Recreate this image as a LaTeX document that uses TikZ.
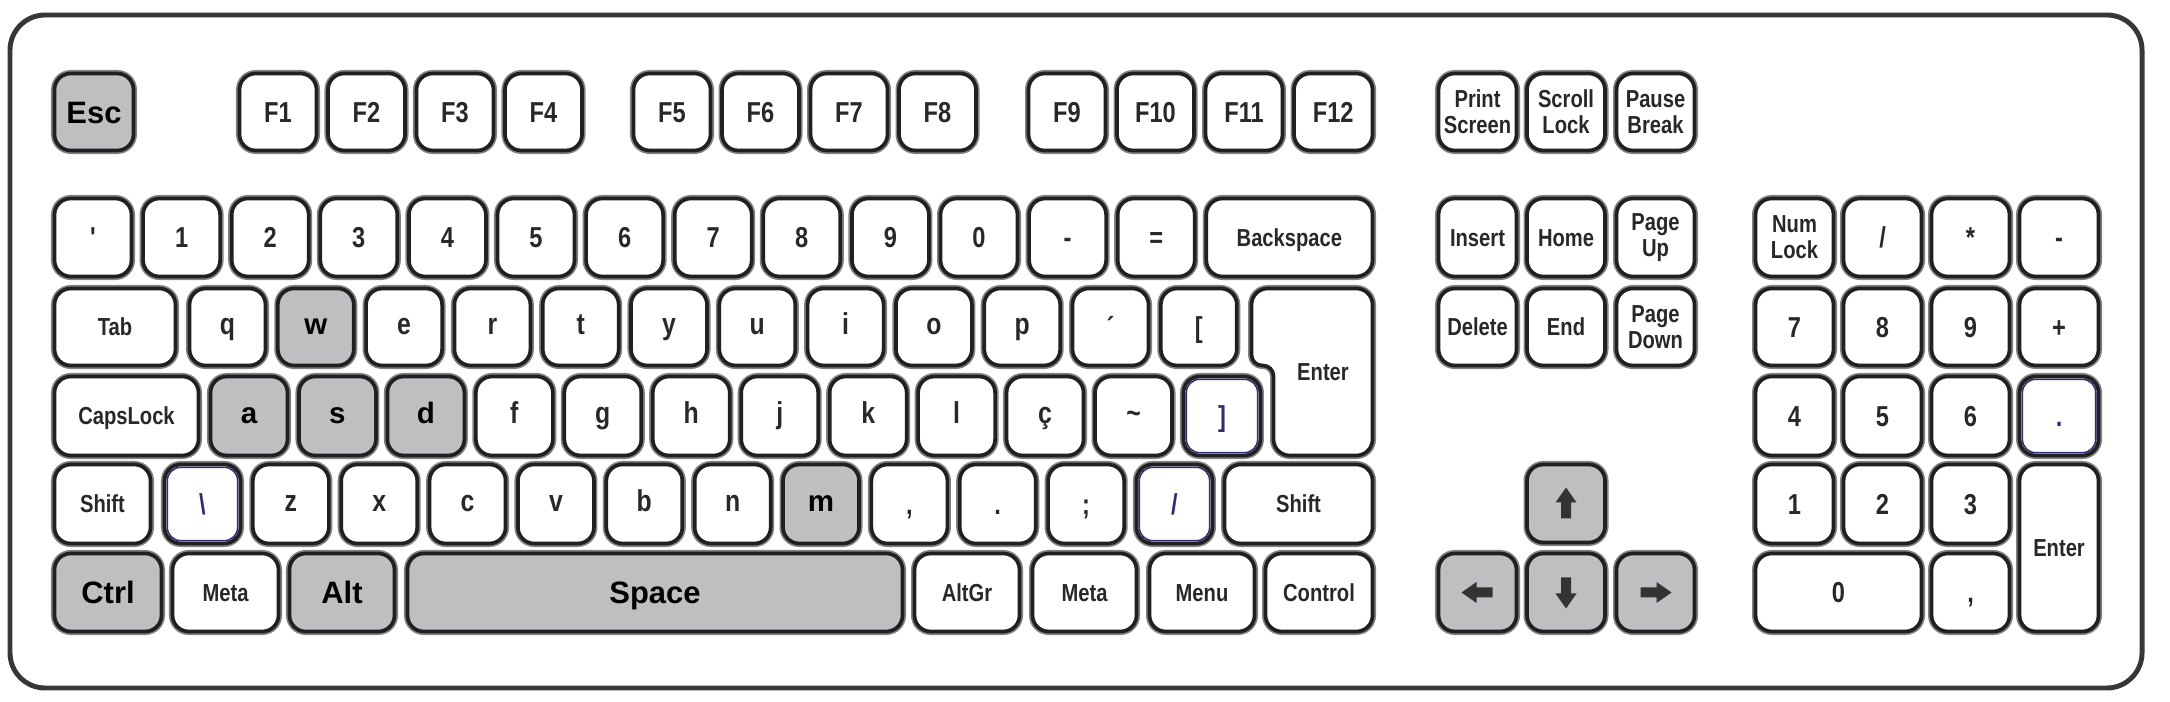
\documentclass[tikz,border=0pt]{standalone}
\usepackage{fontspec}
\setmainfont{Liberation Sans}
\newfontfamily\condf[FakeStretch=0.82]{Liberation Sans}
\usetikzlibrary{calc}
\definecolor{keygray}{RGB}{190,191,193}
\definecolor{keyline}{RGB}{32,32,32}
\definecolor{halo}{RGB}{130,130,130}
\definecolor{labc}{RGB}{40,40,40}
\definecolor{navyc}{RGB}{45,45,115}
\definecolor{framec}{RGB}{55,55,55}
\definecolor{glyphc}{RGB}{51,51,51}
\tikzset{
 key/.style={draw=keyline, line width=1.05pt, rounded corners=4.6pt, fill=white,
   inner sep=0pt, outer sep=0pt, text=labc, preaction={draw=halo, line width=2pt}},
 hl/.style={key, fill=keygray, text=black, font=\bfseries\fontsize{8.8}{8.8}\selectfont, text height=6.3pt, text depth=0pt},
 hlx/.style={key, fill=keygray, text=black, font=\bfseries\fontsize{8.4}{8.4}\selectfont, text height=4.4pt, text depth=0pt},
 fk/.style={key, font=\condf\bfseries\fontsize{8.2}{8.2}\selectfont, text height=5.9pt, text depth=0pt},
 lt/.style={key, font=\condf\bfseries\fontsize{8.6}{8.6}\selectfont, text height=4.5pt, text depth=0pt},
 sm/.style={key, font=\condf\bfseries\fontsize{7}{7}\selectfont, text height=5pt, text depth=0pt},
 tw/.style={key, font=\condf\bfseries\fontsize{7}{7.4}\selectfont, align=center},
 nv/.style={fk, text=navyc},
 navyl/.style={draw=navyc, line width=0.45pt, rounded corners=3.8pt},
 framel/.style={draw=framec, line width=1.4pt, rounded corners=10pt},
}
% name, x1, y1, width, height, style, label  (units: px of the reference)
\newcommand\K[7]{\node[#6, minimum width={(#4-3)*0.1mm}, minimum height={(#5-3)*0.1mm}] (#1) at ({#2+(#4)/2},{#3+(#5)/2}) {#7};}
\newcommand\navyin[1]{\draw[navyl] ($(#1.north west)+(2.8,2.8)$) rectangle ($(#1.south east)+(-2.8,-2.8)$);}
\newcommand\arrowglyph[2]{\fill[glyphc, shift={(#1.center)}, rotate=#2] (0,-16) -- (10.5,-1) -- (5,-1) -- (5,15) -- (-5,15) -- (-5,-1) -- (-10.5,-1) -- cycle;}
\begin{document}
\begin{tikzpicture}[x=0.1mm,y=-0.1mm]
\useasboundingbox (0,0) rectangle (2170,702);
\draw[framel] (10,15) rectangle (2142,688);
% ---------- function row
\K{esc}{53}{72}{82}{80}{hl}{Esc}
\K{f1}{238}{72}{80}{80}{fk}{F1}
\K{f2}{326.5}{72}{80}{80}{fk}{F2}
\K{f3}{415}{72}{80}{80}{fk}{F3}
\K{f4}{503.5}{72}{80}{80}{fk}{F4}
\K{f5}{632}{72}{80}{80}{fk}{F5}
\K{f6}{720.5}{72}{80}{80}{fk}{F6}
\K{f7}{809}{72}{80}{80}{fk}{F7}
\K{f8}{897.5}{72}{80}{80}{fk}{F8}
\K{f9}{1027}{72}{80}{80}{fk}{F9}
\K{f10}{1115.5}{72}{80}{80}{fk}{F10}
\K{f11}{1204}{72}{80}{80}{fk}{F11}
\K{f12}{1292.5}{72}{81.5}{80}{fk}{F12}
\K{prt}{1437}{72}{81}{80}{tw}{Print\\Screen}
\K{scr}{1525.5}{72}{81}{80}{tw}{Scroll\\Lock}
\K{pau}{1615}{72}{81}{80}{tw}{Pause\\Break}
% ---------- number row
\K{grave}{53}{197}{80}{81}{fk}{\char"27}
\K{n1}{53+88.6*1}{197}{80}{81}{fk}{1}
\K{n2}{53+88.6*2}{197}{80}{81}{fk}{2}
\K{n3}{53+88.6*3}{197}{80}{81}{fk}{3}
\K{n4}{53+88.6*4}{197}{80}{81}{fk}{4}
\K{n5}{53+88.6*5}{197}{80}{81}{fk}{5}
\K{n6}{53+88.6*6}{197}{80}{81}{fk}{6}
\K{n7}{53+88.6*7}{197}{80}{81}{fk}{7}
\K{n8}{53+88.6*8}{197}{80}{81}{fk}{8}
\K{n9}{53+88.6*9}{197}{80}{81}{fk}{9}
\K{n0}{53+88.6*10}{197}{80}{81}{fk}{0}
\K{minus}{53+88.6*11}{197}{80}{81}{fk}{-}
\K{equal}{53+88.6*12}{197}{80}{81}{fk}{=}
\K{bksp}{1204.8}{197}{169.2}{81}{sm}{Backspace}
% ---------- tab row
\K{tab}{53}{287}{124}{80}{sm}{Tab}
\K{q}{188}{287}{79}{80}{lt}{q}
\K{w}{188+88.3*1}{287}{79}{80}{hlx}{w}
\K{e}{188+88.3*2}{287}{79}{80}{lt}{e}
\K{r}{188+88.3*3}{287}{79}{80}{lt}{r}
\K{t}{188+88.3*4}{287}{79}{80}{lt}{t}
\K{y}{188+88.3*5}{287}{79}{80}{lt}{y}
\K{u}{188+88.3*6}{287}{79}{80}{lt}{u}
\K{i}{188+88.3*7}{287}{79}{80}{lt}{i}
\K{o}{188+88.3*8}{287}{79}{80}{lt}{o}
\K{p}{188+88.3*9}{287}{79}{80}{lt}{p}
\K{acute}{188+88.3*10}{287}{79}{80}{fk}{´}
\K{lbrack}{188+88.3*11}{287}{79}{80}{fk}{[}
% Enter (L-shaped)
\draw[key] (1251.5,288.5) -- (1372.5,288.5) -- (1372.5,455.5) -- (1273.5,455.5)
  [rounded corners=3pt] -- (1273.5,365.5) -- (1251.5,365.5) [rounded corners=4.6pt] -- cycle;
\node[font=\condf\bfseries\fontsize{7}{7}\selectfont, text=labc, text height=5pt, text depth=0pt, inner sep=0pt] (enter) at (1323,372) {Enter};
% ---------- caps row
\K{caps}{53}{375}{147}{82}{sm}{CapsLock}
\K{a}{209}{375}{80}{82}{hlx}{a}
\K{s}{209+88.45*1}{375}{80}{82}{hlx}{s}
\K{d}{209+88.45*2}{375}{80}{82}{hlx}{d}
\K{f}{209+88.45*3}{375}{80}{82}{lt}{f}
\K{g}{209+88.45*4}{375}{80}{82}{lt}{g}
\K{h}{209+88.45*5}{375}{80}{82}{lt}{h}
\K{j}{209+88.45*6}{375}{80}{82}{lt}{j}
\K{k}{209+88.45*7}{375}{80}{82}{lt}{k}
\K{l}{209+88.45*8}{375}{80}{82}{lt}{l}
\K{cced}{209+88.45*9}{375}{80}{82}{lt}{ç}
\K{tilde}{209+88.45*10}{375}{80}{82}{lt}{\textasciitilde}
\K{rbrack}{209+88.45*11}{375}{80}{82}{nv}{]}
\navyin{rbrack}
% ---------- shift row
\K{lshift}{53}{463}{99}{82}{sm}{Shift}
\K{bslash}{163}{463}{79}{82}{nv}{\textbackslash}
\navyin{bslash}
\K{z}{163+88.36*1}{463}{79}{82}{lt}{z}
\K{x}{163+88.36*2}{463}{79}{82}{lt}{x}
\K{c}{163+88.36*3}{463}{79}{82}{lt}{c}
\K{v}{163+88.36*4}{463}{79}{82}{lt}{v}
\K{b}{163+88.36*5}{463}{79}{82}{lt}{b}
\K{n}{163+88.36*6}{463}{79}{82}{lt}{n}
\K{m}{163+88.36*7}{463}{79}{82}{hlx}{m}
\K{comma}{163+88.36*8}{463}{79}{82}{fk}{,}
\K{period}{163+88.36*9}{463}{79}{82}{fk}{.}
\K{semi}{163+88.36*10}{463}{79}{82}{fk}{;}
\K{slash}{163+88.36*11}{463}{79}{82}{nv}{/}
\navyin{slash}
\K{rshift}{1223}{463}{151}{82}{sm}{Shift}
% ---------- bottom row
\K{ctrl}{53}{552}{110}{81}{hl}{Ctrl}
\K{lmeta}{171}{552}{109}{81}{sm}{Meta}
\K{alt}{288}{552}{108}{81}{hl}{Alt}
\K{space}{406}{552}{498}{81}{hl}{Space}
\K{altgr}{913}{552}{108}{81}{sm}{AltGr}
\K{rmeta}{1031}{552}{107}{81}{sm}{Meta}
\K{menu}{1148}{552}{108}{81}{sm}{Menu}
\K{control}{1264}{552}{110}{81}{sm}{Control}
% ---------- navigation block
\K{ins}{1437}{197}{81}{81}{sm}{Insert}
\K{home}{1525.5}{197}{81}{81}{sm}{Home}
\K{pgup}{1615}{197}{81}{81}{tw}{Page\\Up}
\K{del}{1437}{287}{81}{80}{sm}{Delete}
\K{end}{1525.5}{287}{81}{80}{sm}{End}
\K{pgdn}{1615}{287}{81}{80}{tw}{Page\\Down}
% ---------- arrows
\K{up}{1525.5}{463}{81}{81}{hl}{}
\K{left}{1437}{552}{81}{81}{hl}{}
\K{down}{1525.5}{552}{81}{81}{hl}{}
\K{right}{1615}{552}{81}{81}{hl}{}
\arrowglyph{up}{0}
\arrowglyph{left}{90}
\arrowglyph{down}{180}
\arrowglyph{right}{-90}
% ---------- numeric keypad
\K{numlock}{1754}{197}{81}{81}{tw}{Num\\Lock}
\K{kpdiv}{1842}{197}{81}{81}{fk}{/}
\K{kpmul}{1930}{197}{81}{81}{fk}{*}
\K{kpsub}{2018}{197}{82}{81}{fk}{-}
\K{kp7}{1754}{287}{81}{80}{fk}{7}
\K{kp8}{1842}{287}{81}{80}{fk}{8}
\K{kp9}{1930}{287}{81}{80}{fk}{9}
\K{kpadd}{2018}{287}{82}{80}{fk}{+}
\K{kp4}{1754}{375}{81}{82}{fk}{4}
\K{kp5}{1842}{375}{81}{82}{fk}{5}
\K{kp6}{1930}{375}{81}{82}{fk}{6}
\K{kpdot}{2018}{375}{82}{82}{nv}{.}
\navyin{kpdot}
\K{kp1}{1754}{463}{81}{82}{fk}{1}
\K{kp2}{1842}{463}{81}{82}{fk}{2}
\K{kp3}{1930}{463}{81}{82}{fk}{3}
\K{kpenter}{2018}{463}{82}{170}{sm}{Enter}
\K{kp0}{1754}{552}{169}{81}{fk}{0}
\K{kpcomma}{1930}{552}{81}{81}{fk}{,}
\end{tikzpicture}
\end{document}
